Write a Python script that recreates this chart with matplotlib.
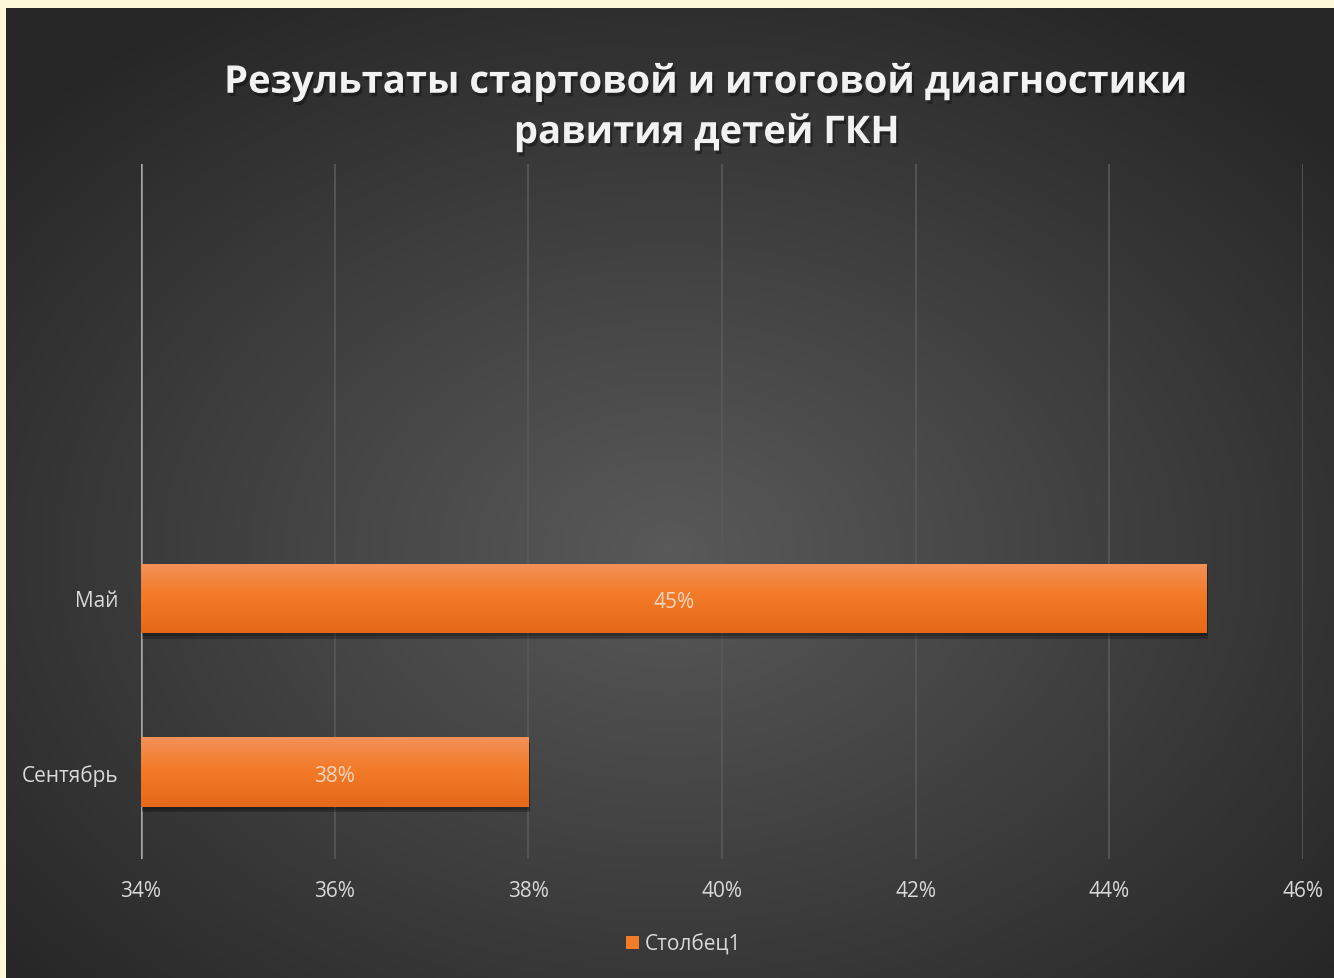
import matplotlib.pyplot as plt
import matplotlib.patheffects as pe
from matplotlib.patches import Patch
import numpy as np

plt.rcParams['font.family'] = ['Open Sans', 'DejaVu Sans']

# data
categories = ['Сентябрь', 'Май', '', '']
values = [38, 45]
x_ticks = [34, 36, 38, 40, 42, 44, 46]
title = 'Результаты стартовой и итоговой диагностики\nравития детей ГКН'
series_name = 'Столбец1'

W, H = 1334, 979
fig = plt.figure(figsize=(W / 100, H / 100), dpi=100, facecolor='#FFF9DB')

# dark radial background
bg = fig.add_axes([6 / W, 0, 1 - 6 / W, 1 - 9 / H])
bg.set_axis_off()
yy, xx = np.mgrid[0:1:400j, 0:1:540j]
r = np.sqrt(((xx - 0.5) / 0.8) ** 2 + ((yy - 0.56) / 0.8) ** 2)
shade = np.clip(0.35 - 0.24 * r, 0.15, 0.35)
bg.imshow(np.dstack([shade] * 3), extent=[0, 1, 0, 1], aspect='auto')

ax = fig.add_axes([141 / W, 119 / H, (1303 - 141) / W, (860 - 165) / H])
ax.patch.set_alpha(0)

ypos = np.arange(len(values))
bars = ax.barh(ypos, [v - x_ticks[0] for v in values], left=x_ticks[0], height=0.4,
               color='#F07C2A', zorder=3,
               path_effects=[pe.SimplePatchShadow(offset=(1, -4), shadow_rgbFace='black', alpha=0.25),
                             pe.SimplePatchShadow(offset=(1, -2), shadow_rgbFace='black', alpha=0.2),
                             pe.Normal()])

grad = np.linspace(0, 1, 100)[:, None]
top_c = np.array([0.95, 0.57, 0.35])
mid_c = np.array([0.95, 0.48, 0.16])
bot_c = np.array([0.90, 0.41, 0.10])
cols = np.where(grad[..., None] < 0.45,
                top_c + (mid_c - top_c) * (grad[..., None] / 0.45),
                mid_c + (bot_c - mid_c) * ((grad[..., None] - 0.45) / 0.55))
for b in bars:
    x0, y0 = b.get_x(), b.get_y()
    im = ax.imshow(cols, extent=[x0, x0 + b.get_width(), y0, y0 + b.get_height()],
                   aspect='auto', zorder=4, origin='upper')
    im.set_clip_path(b)

for b, v in zip(bars, values):
    ax.text(b.get_x() + b.get_width() / 2, b.get_y() + b.get_height() / 2 - 0.02, f'{v}%',
            ha='center', va='center', color='#F5D6C0', fontsize=15, zorder=5)

ax.set_xlim(x_ticks[0], x_ticks[-1])
ax.set_ylim(-0.5, len(categories) - 0.5)
ax.set_xticks(x_ticks)
ax.set_xticklabels([f'{t}%' for t in x_ticks])
ax.set_yticks(np.arange(len(categories)))
ax.set_yticklabels(categories)
ax.tick_params(axis='both', length=0, colors='#D9D9D9', labelsize=15)
ax.tick_params(axis='x', pad=15)
ax.tick_params(axis='y', pad=16)
for s in ax.spines.values():
    s.set_visible(False)
ax.grid(axis='x', color='#595959', linewidth=1.2, zorder=0)
ax.axvline(x_ticks[0], color='#A6A6A6', linewidth=1.8, zorder=2)
ax.set_axisbelow(True)

fig.text(0.53, 0.889, title, ha='center', va='center', fontsize=27.5, fontweight='bold',
         color='#F2F2F2', linespacing=1.4,
         path_effects=[pe.withSimplePatchShadow(offset=(1.5, -2.5), shadow_rgbFace='black', alpha=0.35)])

leg = fig.legend(handles=[Patch(facecolor='#F07C2A', label=series_name)],
                 loc='center', bbox_to_anchor=(684 / W, 1 - 945 / H), frameon=False,
                 fontsize=15, handlelength=0.6, handleheight=0.6, handletextpad=0.3)
for t in leg.get_texts():
    t.set_color('#D9D9D9')

fig.savefig('out.png', dpi=100, facecolor=fig.get_facecolor())
